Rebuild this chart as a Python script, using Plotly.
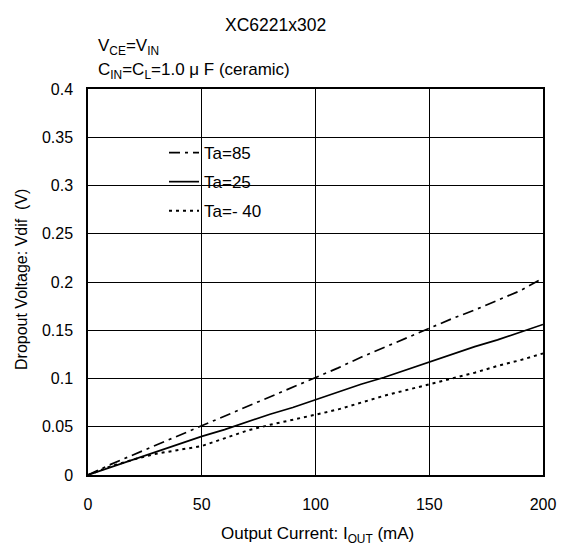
import plotly.graph_objects as go

# ---- data ----
iout_ma = [0, 10, 20, 30, 40, 50, 60, 70, 80, 90, 100, 110, 120, 130, 140, 150, 160, 170, 180, 190, 200]
vdif_ta85 = [0.000, 0.011, 0.021, 0.031, 0.041, 0.051, 0.061, 0.071, 0.081, 0.091, 0.101,
             0.111, 0.122, 0.132, 0.142, 0.152, 0.162, 0.171, 0.181, 0.191, 0.204]
vdif_ta25 = [0.000, 0.008, 0.016, 0.024, 0.032, 0.040, 0.047, 0.055, 0.063, 0.070, 0.078,
             0.086, 0.094, 0.101, 0.109, 0.117, 0.125, 0.133, 0.140, 0.148, 0.156]
vdif_tam40 = [0.000, 0.009, 0.016, 0.022, 0.026, 0.030, 0.038, 0.046, 0.052, 0.057, 0.0625,
              0.068, 0.075, 0.082, 0.088, 0.094, 0.100, 0.106, 0.113, 0.119, 0.126]
series_names = ["Ta=85", "Ta=25", "Ta=- 40"]
x_ticks = [0, 50, 100, 150, 200]
y_ticks = [0, 0.05, 0.1, 0.15, 0.2, 0.25, 0.3, 0.35, 0.4]

W, H = 561, 548
L, R, T, B = 88, 18, 89, 73
PW, PH = W - L - R, H - T - B
FONT = "Liberation Sans, Arial, sans-serif"
FS_TICK = 16
FS_TXT = 17


def px(xp):
    return (xp - L) / PW


def py(yp):
    return 1 - (yp - T) / PH


def tfont(size=FS_TXT):
    return dict(family=FONT, size=size, color="black")


fig = go.Figure()
styles = [
    dict(color="black", width=1.7, dash="11px,5px,3px,5px"),
    dict(color="black", width=1.7, dash="solid"),
    dict(color="black", width=2, dash="3px,4px"),
]
for i, (name, ys) in enumerate(zip(series_names, [vdif_ta85, vdif_ta25, vdif_tam40])):
    fig.add_trace(go.Scatter(x=iout_ma, y=ys, mode="lines", name=name,
                             line=styles[i], legendgroup=f"g{i}"))

axis_common = dict(
    showgrid=True, gridcolor="black", gridwidth=1.3,
    showline=True, linecolor="black", linewidth=1.5, mirror=True,
    zeroline=False, ticks="outside", tickcolor="rgba(0,0,0,0)",
    tickfont=tfont(FS_TICK), automargin=False,
)
fig.update_xaxes(range=[0, 200], tickvals=x_ticks, ticklen=14, **axis_common)
fig.update_yaxes(range=[0, 0.4], tickvals=y_ticks, ticklen=10, **axis_common)

fig.update_layout(
    width=W, height=H,
    margin=dict(l=L, r=R, t=T, b=B, pad=0, autoexpand=False),
    paper_bgcolor="white", plot_bgcolor="white",
    font=tfont(FS_TICK),
    showlegend=True,
    legend=dict(x=px(164), y=py(135), xanchor="left", yanchor="top",
                bgcolor="rgba(0,0,0,0)", borderwidth=0,
                traceorder="grouped", tracegroupgap=4,
                font=tfont(FS_TXT)),
    shapes=[dict(type="rect", xref="paper", yref="paper",
                 x0=px(120), x1=px(291), y0=py(228), y1=py(137),
                 fillcolor="white", line=dict(width=0), layer="between")],
    annotations=[
        dict(text="XC6221x302", xref="paper", yref="paper", x=px(275), y=py(25),
             xanchor="center", yanchor="middle", showarrow=False, font=tfont(17.5)),
        dict(text="V<sub>CE</sub>=V<sub>IN</sub>", xref="paper", yref="paper", x=px(96), y=py(47),
             xanchor="left", yanchor="middle", showarrow=False, font=tfont()),
        dict(text="C<sub>IN</sub>=C<sub>L</sub>=1.0 μ F (ceramic)", xref="paper", yref="paper",
             x=px(96), y=py(71), xanchor="left", yanchor="middle", showarrow=False, font=tfont()),
        dict(text="Output Current: I<sub>OUT</sub> (mA)", xref="paper", yref="paper", x=px(317), y=py(535),
             xanchor="center", yanchor="middle", showarrow=False, font=tfont()),
        dict(text="Dropout Voltage: Vdif  (V)", xref="paper", yref="paper", x=px(21), y=py(280),
             xanchor="center", yanchor="middle", showarrow=False, textangle=-90, font=tfont(16)),
    ],
)

fig.write_html("out.html")
